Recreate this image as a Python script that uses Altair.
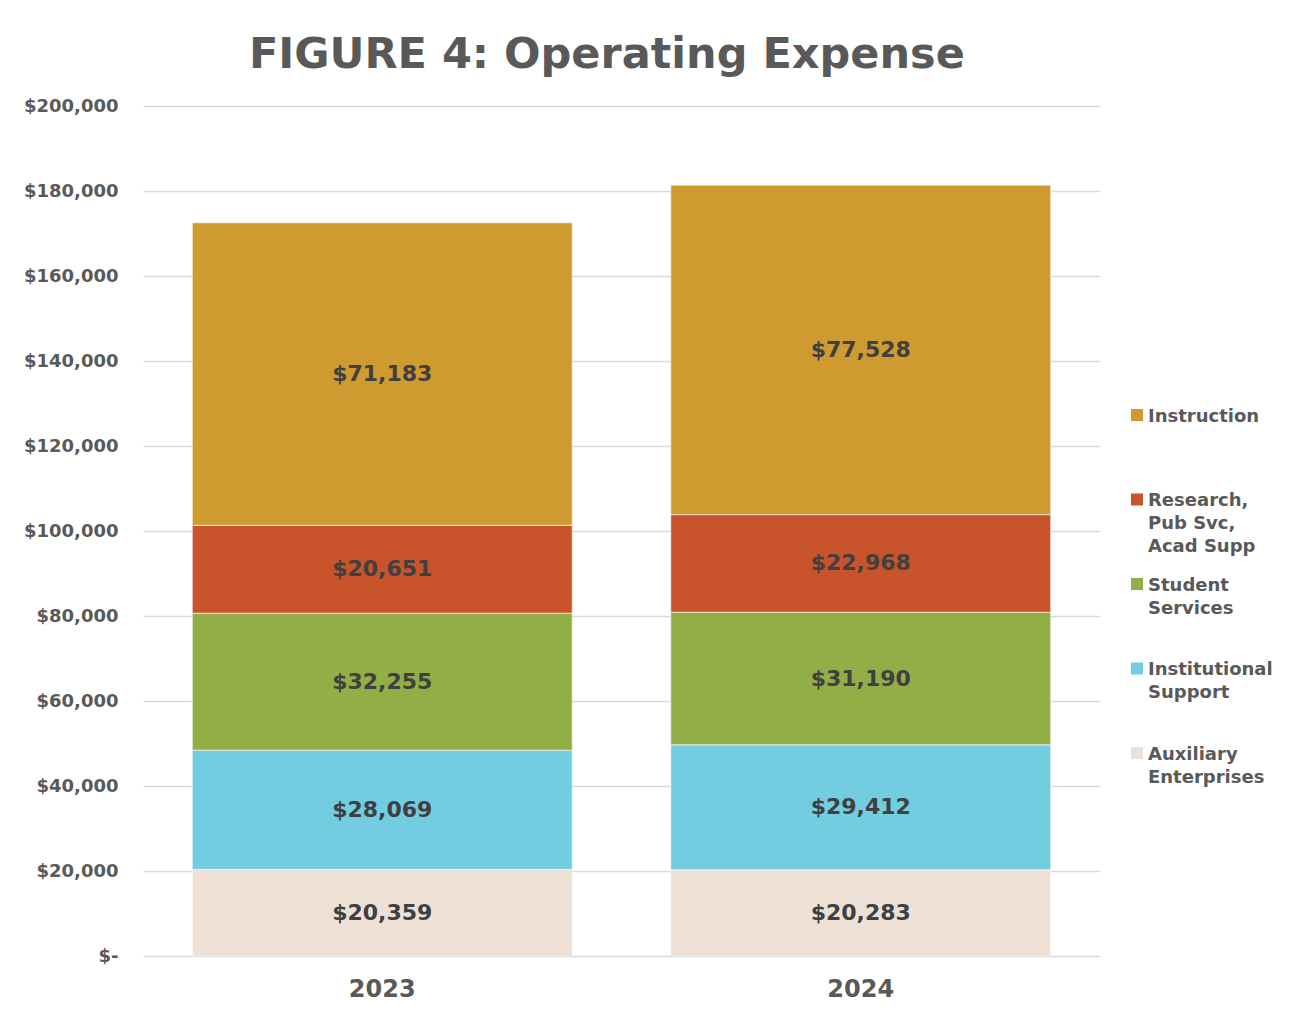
import altair as alt
import pandas as pd

# ---- data ----
years = ["2023", "2024"]
categories = [
    "Auxiliary Enterprises",
    "Institutional Support",
    "Student Services",
    "Research, Pub Svc, Acad Supp",
    "Instruction",
]
legend_labels = [
    "Auxiliary\nEnterprises",
    "Institutional\nSupport",
    "Student\nServices",
    "Research,\nPub Svc,\nAcad Supp",
    "Instruction",
]
values_2023 = [20359, 28069, 32255, 20651, 71183]
values_2024 = [20283, 29412, 31190, 22968, 77528]
colors = ["#EEE0D4", "#72CDE0", "#92AE47", "#C9532A", "#CF9A2F"]
y_ticks = list(range(0, 200001, 20000))

FONT = "DejaVu Sans"
AXIS_GREY = "#595959"

rows = []
for yr, vals in zip(years, [values_2023, values_2024]):
    for i, (cat, v) in enumerate(zip(categories, vals)):
        rows.append({"year": yr, "category": cat, "idx": i, "value": v})
df = pd.DataFrame(rows)

color_scale = alt.Scale(domain=categories, range=colors)

x_enc = alt.X(
    "year:N",
    title=None,
    scale=alt.Scale(paddingInner=0.206, paddingOuter=0.103),
    axis=alt.Axis(
        labelAngle=0, domain=False, ticks=False, labelPadding=21,
        labelFont=FONT, labelFontSize=24, labelFontWeight="bold",
        labelColor=AXIS_GREY, grid=False,
    ),
)
y_scale = alt.Scale(domain=[0, 200000], nice=False)

bars = alt.Chart(df).mark_bar(stroke="white", strokeWidth=1, strokeOpacity=0.6).encode(
    x=x_enc,
    y=alt.Y(
        "value:Q", stack="zero", title=None, scale=y_scale,
        axis=alt.Axis(
            values=y_ticks, domain=False, ticks=False, labelPadding=25,
            minExtent=130,
            labelExpr="datum.value == 0 ? '$-' : '$' + format(datum.value, ',')",
            labelFont=FONT, labelFontSize=18, labelFontWeight="bold",
            labelColor=AXIS_GREY, gridColor="#D9D9D9", gridWidth=1.5,
        ),
    ),
    color=alt.Color("category:N", scale=color_scale, legend=None),
    order=alt.Order("idx:Q", sort="ascending"),
)

labels = (
    alt.Chart(df)
    .transform_stack(
        stack="value", groupby=["year"], as_=["y0", "y1"],
        sort=[alt.SortField("idx", order="ascending")],
    )
    .transform_calculate(
        mid="(datum.y0 + datum.y1) / 2",
        txt="'$' + format(datum.value, ',')",
    )
    .mark_text(font=FONT, fontSize=22, fontWeight="bold", color="#404040")
    .encode(
        x=alt.X("year:N", title=None),
        y=alt.Y("mid:Q", title=None, scale=y_scale),
        text="txt:N",
    )
)

main = alt.layer(bars, labels).properties(width=957, height=850)

# ---- legend panel ----
leg_df = pd.DataFrame({"category": categories, "label": legend_labels})
leg_y = alt.Y(
    "category:N",
    scale=alt.Scale(type="point", domain=categories[::-1], range=[309, 647], padding=0),
    axis=None,
)
sq = alt.Chart(leg_df).mark_square(size=144, opacity=1).encode(
    x=alt.value(37),
    y=leg_y,
    color=alt.Color("category:N", scale=color_scale, legend=None),
)
txt = alt.Chart(leg_df).mark_text(
    align="left", baseline="alphabetic", dy=6.5, lineBreak="\n", lineHeight=23,
    font=FONT, fontSize=18, fontWeight="bold", color=AXIS_GREY,
).encode(x=alt.value(48), y=leg_y, text="label:N")
legend = alt.layer(sq, txt).properties(width=170, height=850)

chart = (
    alt.hconcat(main, legend, spacing=0)
    .properties(
        title=alt.Title(
            "FIGURE 4: Operating Expense",
            font=FONT, fontSize=43, fontWeight="bold", color=AXIS_GREY,
            anchor="middle", dx=-36, offset=20,
        ),
        padding={"left": 5, "top": 26, "right": 0, "bottom": 0},
    )
    .configure_view(stroke=None)
)

chart.save("out.html", embed_options={"renderer": "svg", "actions": False})
